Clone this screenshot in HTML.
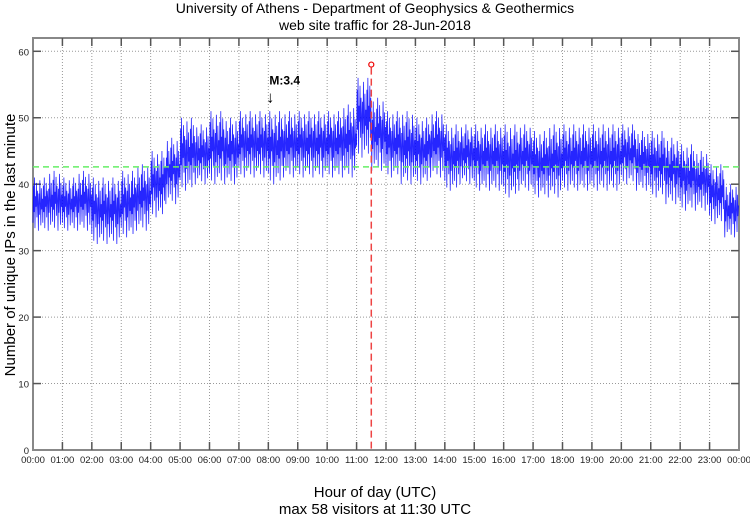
<!DOCTYPE html>
<html><head><meta charset="utf-8"><style>
body{margin:0;background:#fff;}
svg text{font-family:"Liberation Sans","DejaVu Sans",sans-serif;}
</style></head><body>
<svg id="c" width="750" height="515" xmlns="http://www.w3.org/2000/svg">
<text x="375" y="13" text-anchor="middle" font-size="14">University of Athens - Department of Geophysics &amp; Geothermics</text>
<text x="375" y="30" text-anchor="middle" font-size="14">web site traffic for 28-Jun-2018</text>
<text x="375" y="497" text-anchor="middle" font-size="15">Hour of day (UTC)</text>
<text x="375" y="514" text-anchor="middle" font-size="15">max 58 visitors at 11:30 UTC</text>
<text transform="translate(15,245) rotate(-90)" text-anchor="middle" font-size="15">Number of unique IPs in the last minute</text>
<g id="grid"></g><g id="series"></g><g id="marks"></g>
</svg>
<script>
const hourLabels=["00:00","01:00","02:00","03:00","04:00","05:00","06:00","07:00","08:00","09:00","10:00","11:00","12:00","13:00","14:00","15:00","16:00","17:00","18:00","19:00","20:00","21:00","22:00","23:00","00:00"];
const yTicks=[0,10,20,30,40,50,60];
const binLo=[33,33,33,33,31,31,32,33,35,37,39,40,40,40,41,41,40,41,41,41,41,41,44,42,41,40,40,41,39,40,39,39,38,39,38,38,39,39,39,39,40,39,38,37,36,36,34,32];
const binHi=[41,42,41,42,41,41,42,43,45,47,50,49,51,50,51,51,51,51,51,51,51,52,56,53,51,51,50,51,49,49,49,49,49,49,48,49,49,49,49,49,49,48,48,47,46,45,43,40];
const meanLevel=[42.6];
const maxValue=[58];const maxHour=[11.5];
const quakeLabel=["M:3.4"];const quakeHour=[8.0];const quakeVal=[52];
const NS="http://www.w3.org/2000/svg";
const L=33,R=739,T=38,B=450,YMAX=62;
const x=h=>L+(R-L)*h/24;
const y=v=>B-(B-T)*v/YMAX;
function mk(tag,at,p){const e=document.createElementNS(NS,tag);for(const k in at)e.setAttribute(k,at[k]);p.appendChild(e);return e;}
const g=document.getElementById('grid'),s=document.getElementById('series'),m=document.getElementById('marks');
let fr=mk('rect',{x:L,y:T,width:R-L,height:B-T,fill:'none',stroke:'#888','stroke-width':2},g);


hourLabels.forEach((t,i)=>{const xx=x(i);
 if(i>0&&i<24){let gl=mk('line',{x1:xx,x2:xx,y1:T,y2:B,stroke:'#999','stroke-dasharray':'1,2'},g);
 
 
 mk('line',{x1:xx,x2:xx,y1:B,y2:B-8,stroke:'#555','stroke-width':1.5},g);
 mk('line',{x1:xx,x2:xx,y1:T,y2:T+8,stroke:'#555','stroke-width':1.5},g);}
 let tx=mk('text',{x:xx,y:B+13,'text-anchor':'middle','font-size':9.5,fill:'#222'},g);tx.textContent=t;
 
 });
yTicks.forEach(v=>{const yy=y(v);
 if(v>0){let gl=mk('line',{x1:L,x2:R,y1:yy,y2:yy,stroke:'#999','stroke-dasharray':'1,2'},g);
 
 
 mk('line',{x1:L,x2:L+8,y1:yy,y2:yy,stroke:'#555','stroke-width':1.5},g);
 mk('line',{x1:R-8,x2:R,y1:yy,y2:yy,stroke:'#555','stroke-width':1.5},g);}
 let tx=mk('text',{x:L-4,y:yy+4,'text-anchor':'end','font-size':9.5,fill:'#222'},g);tx.textContent=v;
 
 });
const jag=[0.15,0.85,0.35,1.0,0.05,0.65,0.45,0.9,0.25,0.75,0.55,0.0,0.7,0.3,0.95,0.5,0.1,0.8,0.4,0.6];
let pts=[];const nb=binLo.length,per=1440/nb;
for(let b=0;b<nb;b++){for(let k=0;k<per;k++){const min=b*per+k;const f=jag[min%jag.length];const v=binLo[b]+(binHi[b]-binLo[b])*f;pts.push(x(min/60).toFixed(2)+','+y(v).toFixed(1));}}
let pl=mk('polyline',{points:pts.join(' '),fill:'none',stroke:'#0000ff','stroke-width':0.8,'stroke-opacity':0.85},s);


let ml=mk('line',{x1:L,x2:R,y1:y(meanLevel[0]),y2:y(meanLevel[0]),stroke:'#66ee66','stroke-width':1.5,'stroke-dasharray':'6,4'},m);


let vl=mk('line',{x1:x(maxHour[0]),x2:x(maxHour[0]),y1:y(maxValue[0])+3,y2:B,stroke:'#ee4444','stroke-width':1.5,'stroke-dasharray':'7,4'},m);


let mc=mk('circle',{cx:x(maxHour[0]),cy:y(maxValue[0]),r:2.5,fill:'none',stroke:'#ee0000','stroke-width':1.2},m);


let qt=mk('text',{x:x(quakeHour[0])+1,y:y(quakeVal[0])-20,'font-size':12,'font-weight':'bold'},m);qt.textContent=quakeLabel[0];


let qa=mk('text',{x:x(quakeHour[0])+2,y:y(quakeVal[0])-2,'font-size':16,'text-anchor':'middle'},m);qa.textContent='↓';


</script>
</body></html>
